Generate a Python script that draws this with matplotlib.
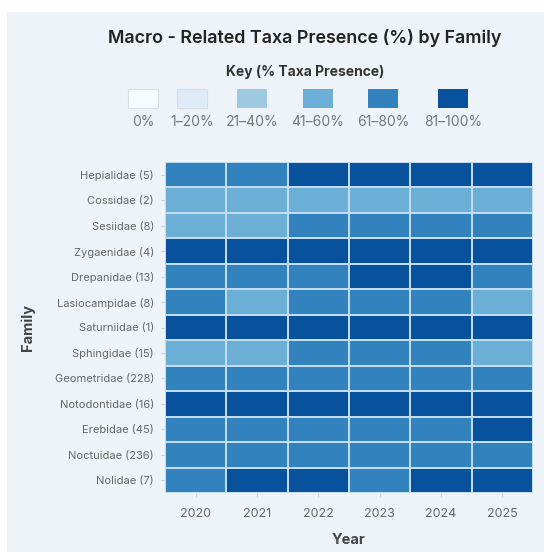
import numpy as np
import matplotlib.pyplot as plt
from matplotlib.colors import ListedColormap, BoundaryNorm
from matplotlib.patches import Rectangle

plt.rcParams['font.family'] = ['Inter', 'DejaVu Sans']

families = ["Hepialidae (5)", "Cossidae (2)", "Sesiidae (8)", "Zygaenidae (4)",
            "Drepanidae (13)", "Lasiocampidae (8)", "Saturniidae (1)", "Sphingidae (15)",
            "Geometridae (228)", "Notodontidae (16)", "Erebidae (45)", "Noctuidae (236)",
            "Nolidae (7)"]
years = ["2020", "2021", "2022", "2023", "2024", "2025"]

# % of taxa present per family per year
presence = [
    [80, 80, 100, 100, 100, 100],   # Hepialidae
    [50, 50, 50, 50, 50, 50],       # Cossidae
    [50, 50, 75, 75, 75, 75],       # Sesiidae
    [100, 100, 100, 100, 100, 100], # Zygaenidae
    [77, 77, 77, 85, 85, 77],       # Drepanidae
    [75, 50, 75, 75, 75, 50],       # Lasiocampidae
    [100, 100, 100, 100, 100, 100], # Saturniidae
    [60, 60, 73, 73, 73, 60],       # Sphingidae
    [70, 71, 72, 70, 71, 72],       # Geometridae
    [88, 88, 88, 88, 88, 88],       # Notodontidae
    [71, 73, 76, 73, 71, 82],       # Erebidae
    [68, 70, 72, 70, 69, 71],       # Noctuidae
    [71, 86, 86, 71, 86, 86],       # Nolidae
]

key_labels = ["0%", "1–20%", "21–40%", "41–60%", "61–80%", "81–100%"]
key_colors = ["#f7fbff", "#deebf7", "#9ecae1", "#6baed6", "#3182bd", "#08519c"]
bounds = [-0.5, 0.5, 20.5, 40.5, 60.5, 80.5, 100.5]

W, H = 544, 552
fig = plt.figure(figsize=(W / 100, H / 100), dpi=100)
fig.patch.set_facecolor("white")
fig.patches.append(Rectangle((7 / W, 0), 1, 1 - 12 / H, transform=fig.transFigure,
                             facecolor="#eef3fa", edgecolor="none", zorder=-10))

ax = fig.add_axes([165 / W, 59 / H, 368 / W, 331 / H])
cmap = ListedColormap(key_colors)
norm = BoundaryNorm(bounds, cmap.N)
data = np.array(presence, dtype=float)
ax.pcolormesh(data, cmap=cmap, norm=norm, edgecolors="#c2dcf2", linewidth=1.2)
ax.set_xlim(0, len(years))
ax.set_ylim(len(families), 0)
ax.set_xticks(np.arange(len(years)) + 0.5)
ax.set_xticklabels(years, fontsize=9, color="#666666")
ax.set_yticks(np.arange(len(families)) + 0.5)
ax.set_yticklabels(families, fontsize=8, color="#666666")
ax.tick_params(axis="both", length=3, color="#d0d4da", width=0.8)
ax.tick_params(axis="x", pad=8)
ax.tick_params(axis="y", pad=5)
for s in ax.spines.values():
    s.set_visible(False)
ax.set_xlabel("Year", fontsize=10.5, fontweight="bold", color="#444444", labelpad=9)
ax.set_ylabel("Family", fontsize=10.5, fontweight="bold", color="#444444", labelpad=14)

fig.text(305 / W, 1 - 38 / H, "Macro - Related Taxa Presence (%) by Family",
         ha="center", va="center", fontsize=12.9, fontweight="semibold", color="#222222")
fig.text(305 / W, 1 - 72 / H, "Key (% Taxa Presence)", ha="center", va="center",
         fontsize=10, fontweight="bold", color="#333333")

key_x = [143, 192, 252, 318, 383, 453]
for cx, lab, col in zip(key_x, key_labels, key_colors):
    fig.patches.append(Rectangle(((cx - 15) / W, 1 - 108 / H), 30 / W, 19 / H,
                                 transform=fig.transFigure, facecolor=col,
                                 edgecolor="#d8dde3" if col in key_colors[:2] else "none",
                                 linewidth=0.8))
    fig.text(cx / W, 1 - 122 / H, lab, ha="center", va="center", fontsize=10,
             color="#777777")

fig.savefig("out.png", dpi=100)
